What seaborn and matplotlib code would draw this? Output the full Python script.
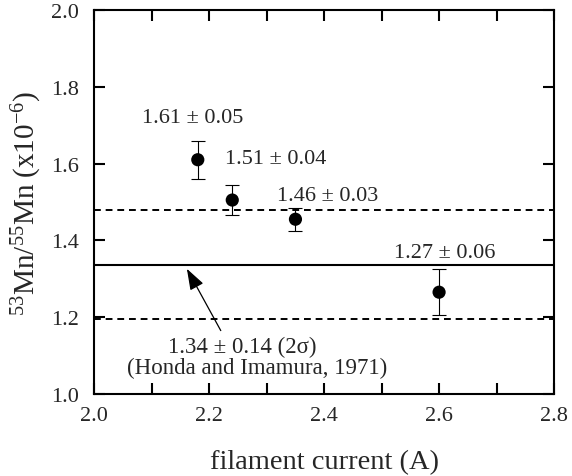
import matplotlib
matplotlib.use("Agg")
import matplotlib.pyplot as plt
import seaborn as sns
import pandas as pd

# ---- data ----
current = [2.18, 2.24, 2.35, 2.60]
ratio = [1.61, 1.505, 1.455, 1.265]
err = [0.05, 0.04, 0.03, 0.06]
point_labels = ["1.61 \u00b1 0.05", "1.51 \u00b1 0.04", "1.46 \u00b1 0.03", "1.27 \u00b1 0.06"]
ref_mean = 1.335
ref_upper = 1.48
ref_lower = 1.195
ref_text1 = "1.34 \u00b1 0.14 (2\u03c3)"
ref_text2 = "(Honda and Imamura, 1971)"
xticks = [2.0, 2.2, 2.4, 2.6, 2.8]
yticks = [1.0, 1.2, 1.4, 1.6, 1.8, 2.0]

# label anchor positions (layout)
label_pos = [(2.171, 1.721, "center"), (2.228, 1.612, "left"),
             (2.318, 1.516, "left"), (2.61, 1.369, "center")]

sns.set_theme(style="ticks")
plt.rcParams["font.family"] = ["Liberation Serif", "DejaVu Serif"]
plt.rcParams["mathtext.fontset"] = "custom"
plt.rcParams["mathtext.rm"] = "Liberation Serif"
plt.rcParams["mathtext.it"] = "Liberation Serif:italic"

df = pd.DataFrame({"current": current, "ratio": ratio})

fig = plt.figure(figsize=(5.72, 4.77), dpi=100)
ax = fig.add_axes([0.165, 0.172, 0.8035, 0.805])

ax.axhline(ref_upper, color="black", lw=1.4, ls=(0, (3.5, 2.5)))
ax.axhline(ref_lower, color="black", lw=1.4, ls=(0, (3.5, 2.5)))
ax.axhline(ref_mean, color="black", lw=1.5)

ax.errorbar(current, ratio, yerr=err, fmt="none", ecolor="black",
            elinewidth=0.8, capsize=4.7, capthick=0.8, zorder=3)
sns.scatterplot(data=df, x="current", y="ratio", ax=ax, color="black",
                s=90, edgecolor="none", zorder=4, legend=False)

for txt, (lx, ly, ha) in zip(point_labels, label_pos):
    ax.text(lx, ly, txt, ha=ha, va="center", fontsize=16)

ax.annotate("", xy=(2.161, 1.326), xytext=(2.22, 1.165),
            arrowprops=dict(arrowstyle="-|>,head_length=1.0,head_width=0.35",
                            color="black", lw=0.9, mutation_scale=13,
                            shrinkA=0, shrinkB=0))
ax.text(2.258, 1.125, ref_text1, ha="center", va="center", fontsize=16.5)
ax.text(2.284, 1.070, ref_text2, ha="center", va="center", fontsize=16.5)

ax.set_xlim(2.0, 2.8)
ax.set_ylim(1.0, 2.0)
ax.set_xticks(xticks)
ax.set_xticklabels([f"{v:.1f}" for v in xticks])
ax.set_xticks([2.1, 2.3, 2.5, 2.7], minor=True)
ax.set_yticks(yticks)
ax.set_yticklabels([f"{v:.1f}" for v in yticks])

ax.tick_params(axis="both", which="both", direction="in", top=True, right=True,
               length=8, width=1.5, labelsize=16, color="black")
ax.tick_params(axis="x", which="major", pad=9)
ax.tick_params(axis="y", which="major", pad=11)
for sp in ax.spines.values():
    sp.set_linewidth(1.5)
    sp.set_color("black")

ax.set_xlabel("filament current (A)", fontsize=20.5, labelpad=17)
ax.set_ylabel(r"$\mathregular{^{53}Mn/^{55}Mn\ (x10^{-6})}$", fontsize=21, labelpad=5)

fig.savefig("out.png", dpi=100)
